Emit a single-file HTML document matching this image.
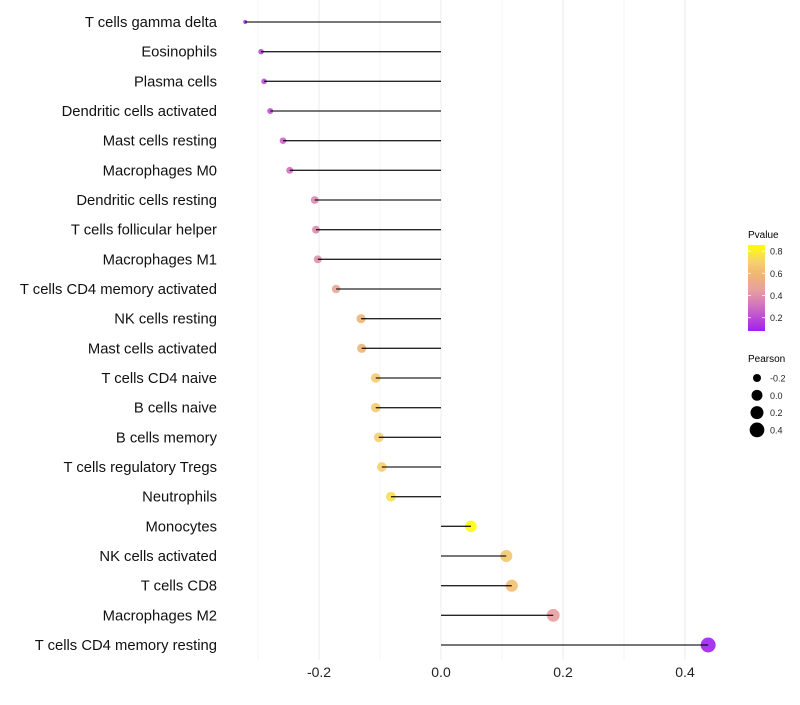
<!DOCTYPE html>
<html><head><meta charset="utf-8"><style>
body{margin:0;background:#fff;font-family:"Liberation Sans",sans-serif}
svg text{font-family:"Liberation Sans",sans-serif}
</style></head><body>
<svg id="chart" width="800" height="700">
<defs><linearGradient id="pg" x1="0" y1="1" x2="0" y2="0">
<stop offset="0" stop-color="#a020f0"/><stop offset="0.28" stop-color="#d070c0"/><stop offset="0.48" stop-color="#e8a0a0"/><stop offset="0.67" stop-color="#f0b870"/><stop offset="0.8" stop-color="#f5d070"/><stop offset="1" stop-color="#ffff00"/></linearGradient></defs>
<g id="grid"></g>
<g id="dots"></g>
<g id="marks"></g>
<g id="ylabels"></g>
<g id="xlabels"></g>
<g>
<text x="748" y="238" font-size="10" fill="#000">Pvalue</text>
<rect x="748" y="245" width="17" height="86" fill="url(#pg)"/>
<g id="cbticks"></g>
</g>
<g id="sizeleg">
<text x="748" y="362" font-size="10" fill="#000">Pearson</text>
</g>
</svg>
<script>
const categories=["T cells gamma delta","Eosinophils","Plasma cells","Dendritic cells activated","Mast cells resting","Macrophages M0","Dendritic cells resting","T cells follicular helper","Macrophages M1","T cells CD4 memory activated","NK cells resting","Mast cells activated","T cells CD4 naive","B cells naive","B cells memory","T cells regulatory  Tregs ","Neutrophils","Monocytes","NK cells activated","T cells CD8","Macrophages M2","T cells CD4 memory resting"];
const pearson=[-0.321,-0.295,-0.290,-0.280,-0.259,-0.248,-0.207,-0.205,-0.202,-0.172,-0.131,-0.130,-0.107,-0.107,-0.102,-0.097,-0.082,0.049,0.107,0.116,0.184,0.438];
const pvalue=[0.12,0.2,0.2,0.22,0.27,0.3,0.38,0.38,0.4,0.48,0.58,0.58,0.68,0.68,0.69,0.7,0.75,0.85,0.66,0.63,0.45,0.08];
const xTicks=[-0.2,0,0.2,0.4];
const xTickLabels=["-0.2","0.0","0.2","0.4"];
const xMinor=[-0.3,-0.1,0.1,0.3];
const pTicks=[0.2,0.4,0.6,0.8];
const sizeTicks=[-0.2,0.0,0.2,0.4];

const NS="http://www.w3.org/2000/svg";
const X=v=>441+v*610;
const Y=i=>22+i*(623/21);
const R=v=>1.5+6.83*Math.pow(Math.max(0,v+0.325),0.484);
const PY=p=>331-(p-0.08)/(0.855-0.08)*86;
const stops=[[0,[160,32,240]],[0.28,[208,112,192]],[0.48,[232,160,160]],[0.67,[240,184,112]],[0.8,[245,208,112]],[1,[255,255,0]]];
function col(p){const t=Math.max(0,Math.min(1,(p-0.08)/(0.855-0.08)));
 for(let k=1;k<stops.length;k++){if(t<=stops[k][0]){const a=stops[k-1],b=stops[k];const u=(t-a[0])/(b[0]-a[0]);
 const c=a[1].map((x,i)=>Math.round(x+(b[1][i]-x)*u));return `rgb(${c[0]},${c[1]},${c[2]})`;}}
 return 'rgb(255,255,0)';}
function mk(tag,attrs,parent){const e=document.createElementNS(NS,tag);for(const k in attrs)e.setAttribute(k,attrs[k]);parent.appendChild(e);return e;}
const grid=document.getElementById('grid');
xMinor.forEach(v=>{const l=mk('line',{x1:X(v),x2:X(v),y1:0,y2:660,stroke:'#f4f4f4','stroke-width':1},grid);

});
xTicks.forEach(v=>{const l=mk('line',{x1:X(v),x2:X(v),y1:0,y2:660,stroke:'#ebebeb','stroke-width':1},grid);

});
const xl=document.getElementById('xlabels');
xTicks.forEach((v,i)=>{const t=mk('text',{x:X(v),y:677,'font-size':14,fill:'#222','text-anchor':'middle'},xl);t.textContent=xTickLabels[i];

});
const marks=document.getElementById('marks'),dots=document.getElementById('dots'),yl=document.getElementById('ylabels');
categories.forEach((c,i)=>{
 const y=Y(i);
 const d=mk('circle',{cx:X(pearson[i]),cy:y,r:R(pearson[i]),fill:col(pvalue[i]),'fill-opacity':0.9},dots);
 
 
 const l=mk('line',{x1:X(0),x2:X(pearson[i]),y1:y,y2:y,stroke:'#000','stroke-width':1.3,'stroke-opacity':0.85},marks);
 
 
 const t=mk('text',{x:217,y:y+5,'font-size':14.8,fill:'#111','text-anchor':'end'},yl);t.textContent=c;
 
 
});
const cb=document.getElementById('cbticks');
pTicks.forEach(p=>{const y=PY(p);
 mk('line',{x1:748,x2:751,y1:y,y2:y,stroke:'#fff','stroke-width':0.8},cb);
 mk('line',{x1:762,x2:765,y1:y,y2:y,stroke:'#fff','stroke-width':0.8},cb);
 const t=mk('text',{x:770,y:y+3.5,'font-size':9,fill:'#222'},cb);t.textContent=p.toFixed(1);
 
 });
const sl=document.getElementById('sizeleg');
sizeTicks.forEach((v,i)=>{const y=378+i*17.3;
 const c=mk('circle',{cx:757,cy:y,r:R(v),fill:'#000'},sl);
 
 
 const t=mk('text',{x:770,y:y+3.5,'font-size':9,fill:'#222'},sl);t.textContent=v.toFixed(1);
 
 });
</script>
</body></html>
